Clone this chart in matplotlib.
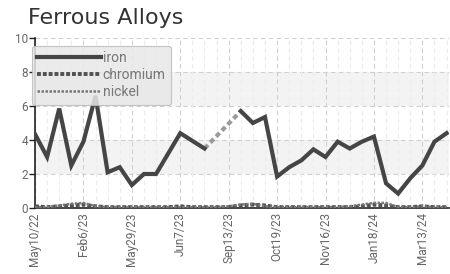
import numpy as np
import matplotlib
matplotlib.use("Agg")
import matplotlib.pyplot as plt
from matplotlib import font_manager as fm
from matplotlib.lines import Line2D

names = {f.name for f in fm.fontManager.ttflist}
narrow = "Liberation Sans Narrow" if "Liberation Sans Narrow" in names else "Roboto"

tick_labels = ["May10/22", "Feb6/23", "May29/23", "Jun7/23", "Sep13/23",
               "Oct19/23", "Nov16/23", "Jan18/24", "Mar13/24"]

iron = [4.35, 3.0, 5.85, 2.5, 3.9, 6.6, 2.1, 2.4, 1.35, 2.0, 2.0, 3.2, 4.4, 3.95, 3.5,
        np.nan, np.nan, 5.7, 5.0, 5.35, 1.85, 2.4, 2.8, 3.45, 3.0, 3.9, 3.5, 3.9, 4.2,
        1.45, 0.85, 1.75, 2.5, 3.9, 4.4]
chromium = [0.1, 0.05, 0.1, 0.15, 0.2, 0.1, 0.05, 0.05, 0.05, 0.05, 0.05, 0.05, 0.1, 0.05,
            0.05, 0.05, 0.05, 0.15, 0.2, 0.15, 0.05, 0.05, 0.05, 0.05, 0.05, 0.05, 0.05, 0.1,
            0.2, 0.15, 0.05, 0.05, 0.1, 0.05, 0.05]
nickel = [0.05, 0.05, 0.15, 0.25, 0.3, 0.1, 0.05, 0.05, 0.05, 0.05, 0.05, 0.05, 0.05, 0.05,
          0.05, 0.05, 0.1, 0.2, 0.25, 0.1, 0.05, 0.05, 0.05, 0.05, 0.05, 0.05, 0.1, 0.2,
          0.3, 0.3, 0.05, 0.05, 0.1, 0.05, 0.05]

x = np.arange(len(iron))
ia = np.array(iron)

fig = plt.figure(figsize=(4.5, 2.74), dpi=100)
ax = fig.add_axes([35/450, (274-208)/274, (449-35)/450, 170/274])

# alternating bands
for lo in (2, 6):
    ax.axhspan(lo, lo + 2, color="#f3f3f3", zorder=0, lw=0)
# grid
for yy in (2, 4, 6, 8, 10):
    ax.axhline(yy, color="#d0d0d0", lw=0.8, ls=(0, (4, 3)), zorder=1)
for xx in x:
    major = xx % 4 == 0
    ax.axvline(xx, color="#cfcfcf" if major else "#ececec", lw=0.8,
               ls=(0, (4, 3)), zorder=1)

# gap connector
gi = [14, 17]
ax.plot(x[gi], ia[gi], color="#9a9a9a", lw=3, ls=(0, (1.2, 0.8)), zorder=3)
ax.plot(x, chromium, color="#505050", lw=2.8, ls=(0, (1, 0.5)), zorder=3)
ax.plot(x, nickel, color="#777777", lw=1.8, ls=(0, (1, 0.6)), zorder=3)
ax.plot(x, ia, color="#454545", lw=3.0, solid_joinstyle="miter", zorder=4)

handles = [Line2D([], [], color="#454545", lw=3.0),
           Line2D([], [], color="#505050", lw=2.8, ls=(0, (1, 0.5))),
           Line2D([], [], color="#777777", lw=1.8, ls=(0, (1, 0.6)))]
leg = ax.legend(handles, ["iron", "chromium", "nickel"], loc="upper left",
                bbox_to_anchor=(-0.008, 0.955), handlelength=4.6, handletextpad=0.1,
                labelspacing=0.22, borderpad=0.4, borderaxespad=0.0, fancybox=True,
                framealpha=0.85, prop={"family": narrow, "size": 10},
                labelcolor="#777777", facecolor="#e8e8e8", edgecolor="#bbbbbb")
leg.get_frame().set_linewidth(0.8)
leg.set_zorder(5)

ax.set_xlim(0, 34.2)
ax.set_ylim(0, 10)
ax.set_yticks([0, 2, 4, 6, 8, 10])
ax.set_xticks(x[::4])
ax.set_xticklabels(tick_labels, rotation=90)
for lab in ax.get_xticklabels() + ax.get_yticklabels():
    lab.set_family(narrow)
    lab.set_fontsize(8.5)
    lab.set_color("#666666")
ax.tick_params(axis="y", length=4, width=1, pad=1, color="#222222")
ax.tick_params(axis="x", length=0, pad=3)
for s in ("top", "right"):
    ax.spines[s].set_visible(False)
for s in ("left", "bottom"):
    ax.spines[s].set_color("#222222")
    ax.spines[s].set_linewidth(1.2)
ax.set_facecolor("white")

fig.text(28/450, 1 - 18/274, "Ferrous Alloys", fontsize=16, color="#333333",
         family="DejaVu Sans", va="center", ha="left")

fig.savefig("out.png", dpi=100)
